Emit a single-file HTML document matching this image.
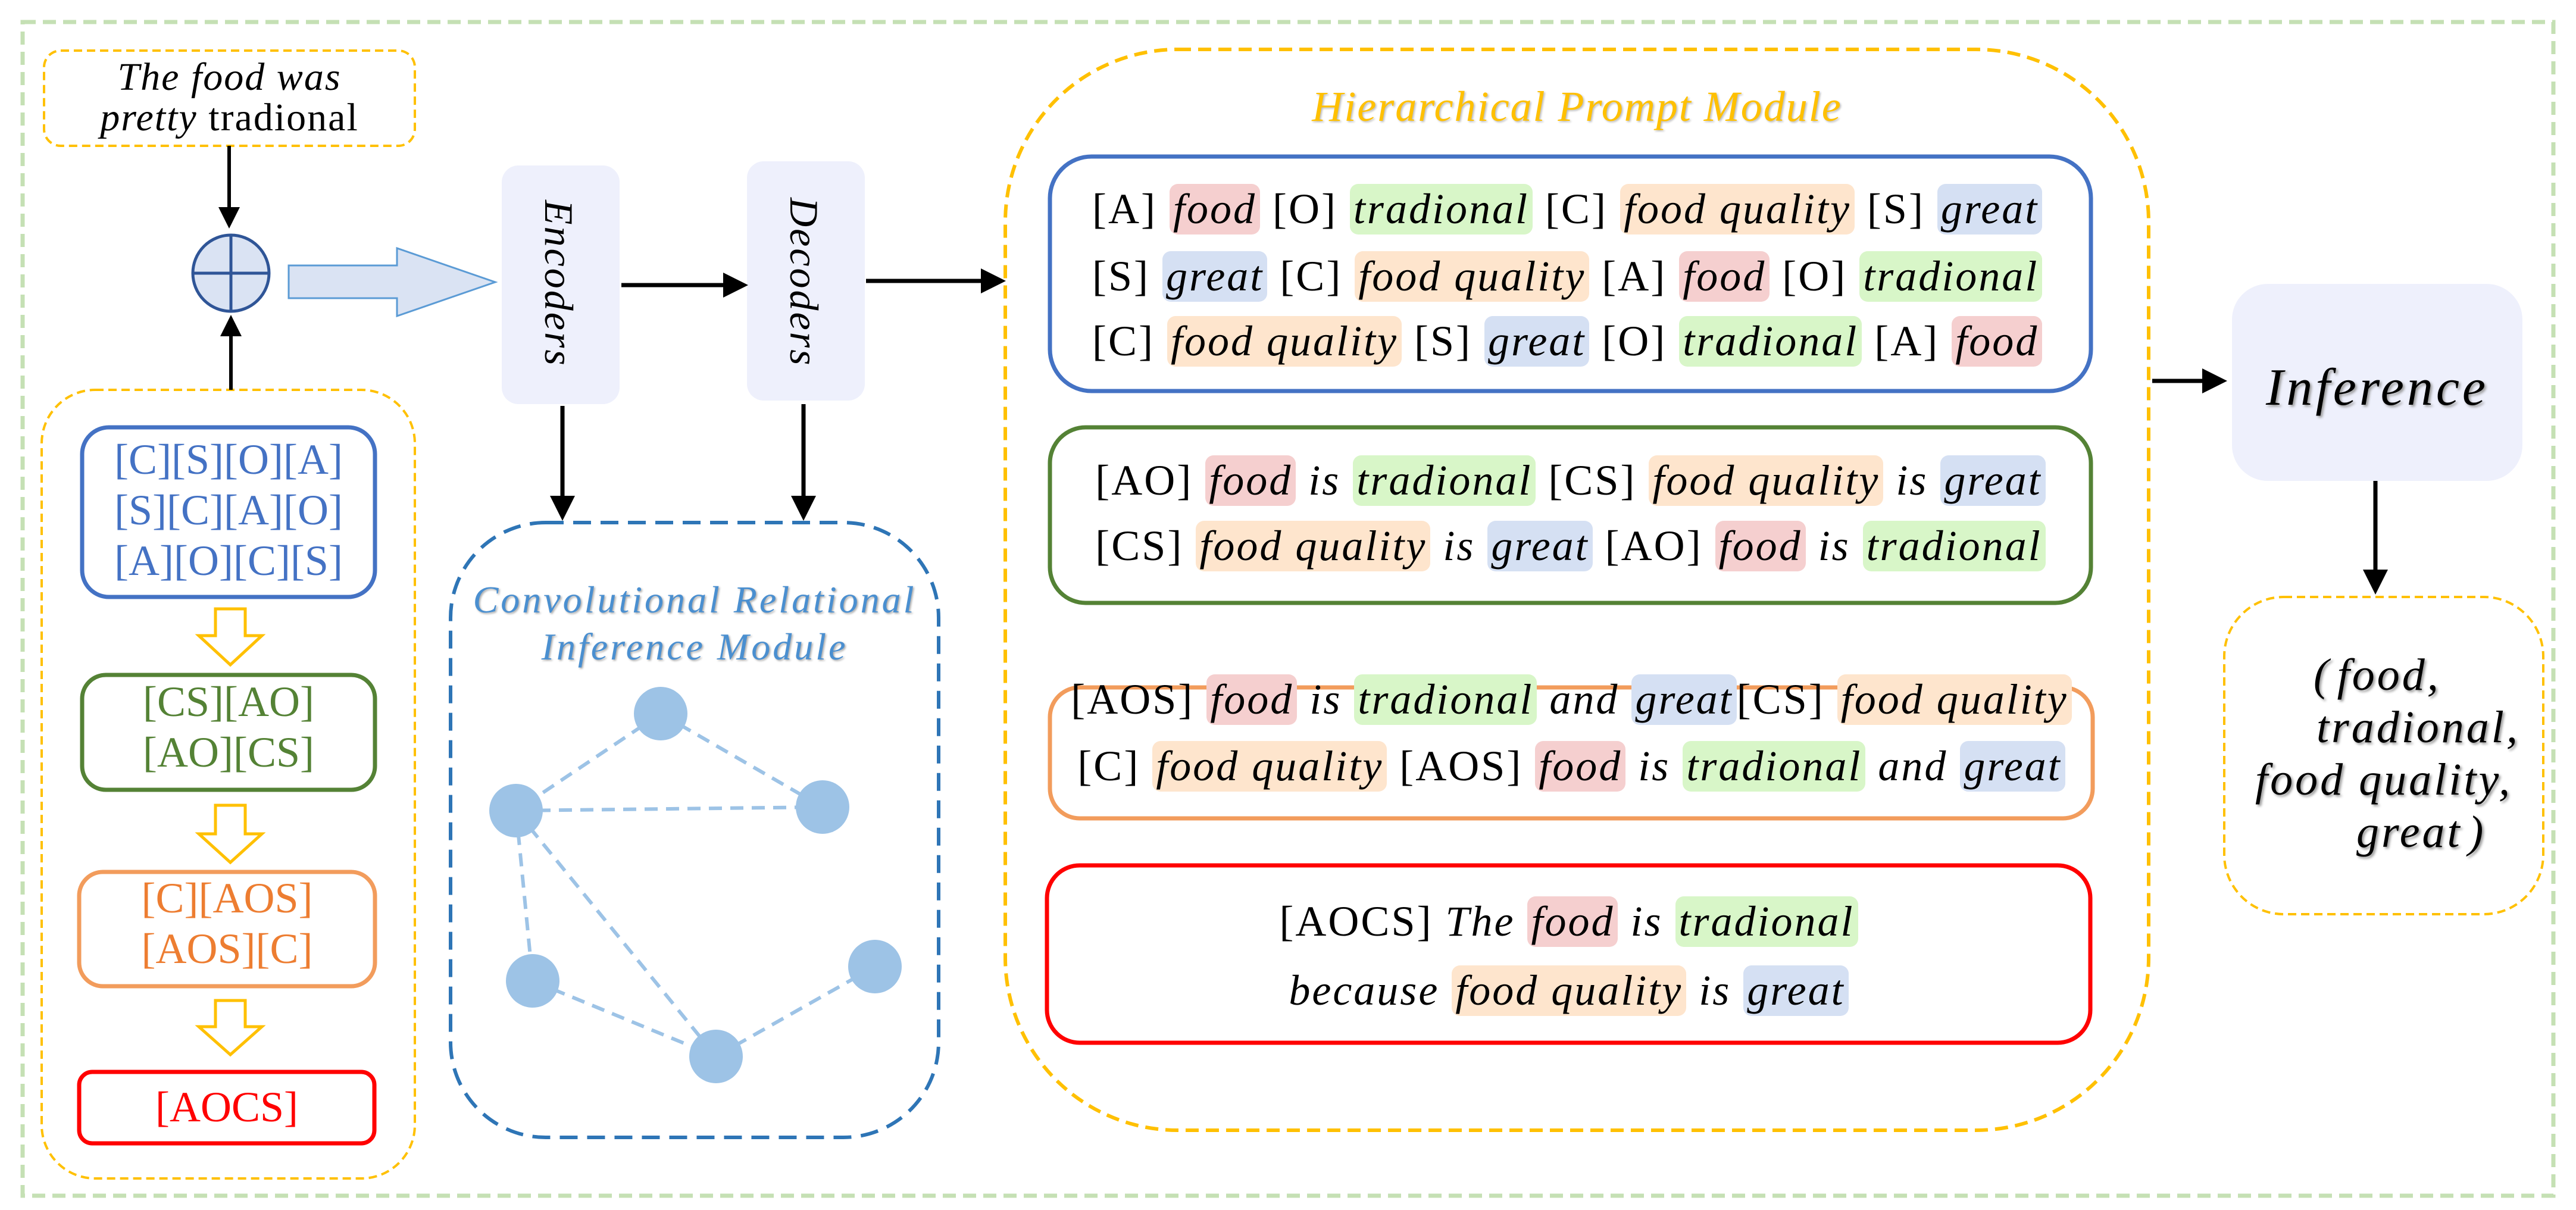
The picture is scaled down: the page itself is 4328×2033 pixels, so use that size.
<!DOCTYPE html>
<html><head><meta charset="utf-8"><style>
html,body{margin:0;padding:0;background:#fff}
#c{position:relative;width:4328px;height:2033px;overflow:hidden;font-family:"Liberation Serif",serif}
#c *{font-family:"Liberation Serif",serif}
svg{position:absolute;left:0;top:0}
.t{position:absolute;white-space:nowrap;line-height:1}
.ln{position:absolute;white-space:nowrap;font-size:72px;line-height:85px;height:85px;letter-spacing:3px;color:#000}
.ln i{font-style:italic}
.h{display:inline-block;border-radius:14px;padding:0 6px;font-style:italic}
.r{background:#f5cfcf}.g{background:#d8f6c8}.o{background:#fee5cd}.b{background:#d5e0f3}
.stk{position:absolute;text-align:center;font-size:72px;line-height:85px}
</style></head><body><div id="c">
<svg width="4328" height="2033" viewBox="0 0 4328 2033">
<defs>
<marker id="ah" markerWidth="6" markerHeight="6" refX="5" refY="3" orient="auto" markerUnits="strokeWidth"><path d="M0,0 L6,3 L0,6 z" fill="#000"/></marker>
</defs>
<rect x="38" y="37" width="4252" height="1972" fill="none" stroke="#c5e0b4" stroke-width="7" stroke-dasharray="22,12"/>
<rect x="74" y="85" width="623" height="160" rx="28" fill="none" stroke="#ffc000" stroke-width="4" stroke-dasharray="14,8"/>
<rect x="70" y="655" width="627" height="1325" rx="90" fill="none" stroke="#ffc000" stroke-width="4" stroke-dasharray="14,8"/>
<rect x="138" y="718" width="492" height="285" rx="45" fill="none" stroke="#4472c4" stroke-width="7"/>
<rect x="138" y="1134" width="492" height="193" rx="40" fill="none" stroke="#548235" stroke-width="7"/>
<rect x="133" y="1465" width="497" height="192" rx="40" fill="none" stroke="#f29c5c" stroke-width="7"/>
<rect x="133" y="1801" width="496" height="120" rx="22" fill="none" stroke="#ff0000" stroke-width="7"/>
<g fill="#fff" stroke="#ffc000" stroke-width="5">
<path d="M362,1023 h50 v45 h28 l-53,49 l-53,-49 h28 z"/>
<path d="M362,1353 h50 v48 h28 l-53,48 l-53,-48 h28 z"/>
<path d="M362,1681 h50 v44 h28 l-53,47 l-53,-47 h28 z"/>
</g>
<line x1="385" y1="245" x2="385" y2="378" stroke="#000" stroke-width="6" marker-end="url(#ah)"/>
<line x1="388" y1="655" x2="388" y2="535" stroke="#000" stroke-width="6" marker-end="url(#ah)"/>
<circle cx="388" cy="459" r="64" fill="#dae3f3" stroke="#2f5597" stroke-width="5"/>
<line x1="324" y1="459" x2="452" y2="459" stroke="#2f5597" stroke-width="5"/>
<line x1="388" y1="395" x2="388" y2="523" stroke="#2f5597" stroke-width="5"/>
<path d="M485,446 H667 V417 L832,474 L667,531 V501 H485 Z" fill="#dae3f3" stroke="#5b9bd5" stroke-width="3"/>
<rect x="843" y="278" width="198" height="401" rx="28" fill="#eef0fc"/>
<rect x="1255" y="271" width="198" height="402" rx="28" fill="#eef0fc"/>
<line x1="1044" y1="479" x2="1250" y2="479" stroke="#000" stroke-width="7" marker-end="url(#ah)"/>
<line x1="1455" y1="472" x2="1683" y2="472" stroke="#000" stroke-width="7" marker-end="url(#ah)"/>
<line x1="945" y1="682" x2="945" y2="868" stroke="#000" stroke-width="7" marker-end="url(#ah)"/>
<line x1="1350" y1="679" x2="1350" y2="868" stroke="#000" stroke-width="7" marker-end="url(#ah)"/>
<rect x="757" y="878" width="820" height="1033" rx="160" fill="none" stroke="#2e75b6" stroke-width="6" stroke-dasharray="30,16"/>
<g stroke="#9dc3e6" stroke-width="6" stroke-dasharray="22,14">
<line x1="1110" y1="1199" x2="867" y2="1362"/>
<line x1="1110" y1="1199" x2="1382" y2="1356"/>
<line x1="867" y1="1362" x2="1382" y2="1356"/>
<line x1="867" y1="1362" x2="895" y2="1648"/>
<line x1="867" y1="1362" x2="1203" y2="1775"/>
<line x1="895" y1="1648" x2="1203" y2="1775"/>
<line x1="1203" y1="1775" x2="1470" y2="1624"/>
</g>
<g fill="#9dc3e6">
<circle cx="1110" cy="1199" r="45"/><circle cx="867" cy="1362" r="45"/><circle cx="1382" cy="1356" r="45"/>
<circle cx="895" cy="1648" r="45"/><circle cx="1203" cy="1775" r="45"/><circle cx="1470" cy="1624" r="45"/>
</g>
<rect x="1689" y="83" width="1921" height="1816" rx="290" fill="none" stroke="#ffc000" stroke-width="6" stroke-dasharray="22,12"/>
<rect x="1764" y="263" width="1749" height="394" rx="70" fill="none" stroke="#4472c4" stroke-width="7"/>
<rect x="1764" y="718" width="1749" height="295" rx="60" fill="none" stroke="#548235" stroke-width="7"/>
<rect x="1764" y="1155" width="1752" height="220" rx="50" fill="none" stroke="#f29c5c" stroke-width="7"/>
<rect x="1759" y="1454" width="1753" height="298" rx="55" fill="none" stroke="#ff0000" stroke-width="7"/>
<line x1="3616" y1="640" x2="3735" y2="640" stroke="#000" stroke-width="7" marker-end="url(#ah)"/>
<rect x="3750" y="477" width="488" height="331" rx="60" fill="#eef0fc"/>
<line x1="3991" y1="808" x2="3991" y2="992" stroke="#000" stroke-width="7" marker-end="url(#ah)"/>
<rect x="3737" y="1003" width="536" height="533" rx="100" fill="none" stroke="#ffc000" stroke-width="4" stroke-dasharray="14,8"/>
</svg>

<div class="t" style="left:74px;width:623px;top:96px;text-align:center;font-size:66px;line-height:68px;letter-spacing:2px"><i>The food was</i><br><i>pretty</i> tradional</div>

<div class="stk" style="left:138px;width:492px;top:730px;color:#4472c4">[C][S][O][A]<br>[S][C][A][O]<br>[A][O][C][S]</div>
<div class="stk" style="left:138px;width:492px;top:1137px;color:#548235">[CS][AO]<br>[AO][CS]</div>
<div class="stk" style="left:133px;width:497px;top:1467px;color:#ed7d31">[C][AOS]<br>[AOS][C]</div>
<div class="stk" style="left:133px;width:496px;top:1818px;color:#ff0000">[AOCS]</div>

<div class="t" style="left:905px;top:336px;writing-mode:vertical-rl;font-size:68px;font-style:italic;letter-spacing:3px">Encoders</div>
<div class="t" style="left:1317px;top:332px;writing-mode:vertical-rl;font-size:68px;font-style:italic;letter-spacing:3px">Decoders</div>

<div class="t" style="left:757px;width:820px;top:968px;text-align:center;font-size:64px;line-height:79px;font-style:italic;color:#4a8fd0;letter-spacing:4px;text-shadow:2px 2px 3px #aaa">Convolutional Relational<br>Inference Module</div>

<div class="t" style="left:1689px;width:1921px;top:143px;text-align:center;font-size:72px;font-style:italic;color:#ffc000;letter-spacing:2px;text-shadow:2px 2px 3px #bbb">Hierarchical Prompt Module</div>

<div class="ln" style="left:1835px;top:309px">[A] <span class="h r">food</span> [O] <span class="h g">tradional</span> [C] <span class="h o">food quality</span> [S] <span class="h b">great</span></div>
<div class="ln" style="left:1835px;top:422px">[S] <span class="h b">great</span> [C] <span class="h o">food quality</span> [A] <span class="h r">food</span> [O] <span class="h g">tradional</span></div>
<div class="ln" style="left:1835px;top:531px">[C] <span class="h o">food quality</span> [S] <span class="h b">great</span> [O] <span class="h g">tradional</span> [A] <span class="h r">food</span></div>

<div class="ln" style="left:1764px;width:1749px;text-align:center;top:765px">[AO] <span class="h r">food</span> <i>is</i> <span class="h g">tradional</span> [CS] <span class="h o">food quality</span> <i>is</i> <span class="h b">great</span></div>
<div class="ln" style="left:1764px;width:1749px;text-align:center;top:875px">[CS] <span class="h o">food quality</span> <i>is</i> <span class="h b">great</span> [AO] <span class="h r">food</span> <i>is</i> <span class="h g">tradional</span></div>

<div class="ln" style="left:1764px;width:1752px;text-align:center;top:1133px">[AOS] <span class="h r">food</span> <i>is</i> <span class="h g">tradional</span> <i>and</i> <span class="h b">great</span>[CS] <span class="h o">food quality</span></div>
<div class="ln" style="left:1764px;width:1752px;text-align:center;top:1245px">[C] <span class="h o">food quality</span> [AOS] <span class="h r">food</span> <i>is</i> <span class="h g">tradional</span> <i>and</i> <span class="h b">great</span></div>

<div class="ln" style="left:1759px;width:1753px;text-align:center;top:1506px">[AOCS] <i>The</i> <span class="h r">food</span> <i>is</i> <span class="h g">tradional</span></div>
<div class="ln" style="left:1759px;width:1753px;text-align:center;top:1622px"><i>because</i> <span class="h o">food quality</span> <i>is</i> <span class="h b">great</span></div>

<div class="t" style="left:3750px;width:488px;top:608px;text-align:center;font-size:88px;font-style:italic;letter-spacing:5px;text-shadow:3px 3px 4px #999">Inference</div>

<div class="t" style="left:3737px;top:1090px;font-size:76px;font-style:italic;line-height:88px;letter-spacing:4px;text-shadow:3px 3px 4px #999">
<div style="position:absolute;left:150px;top:0">(&#8202;food,</div>
<div style="position:absolute;left:155px;top:88px">tradional,</div>
<div style="position:absolute;left:52px;top:176px">food quality,</div>
<div style="position:absolute;left:222px;top:264px">great&#8202;)</div>
</div>
</div></body></html>
